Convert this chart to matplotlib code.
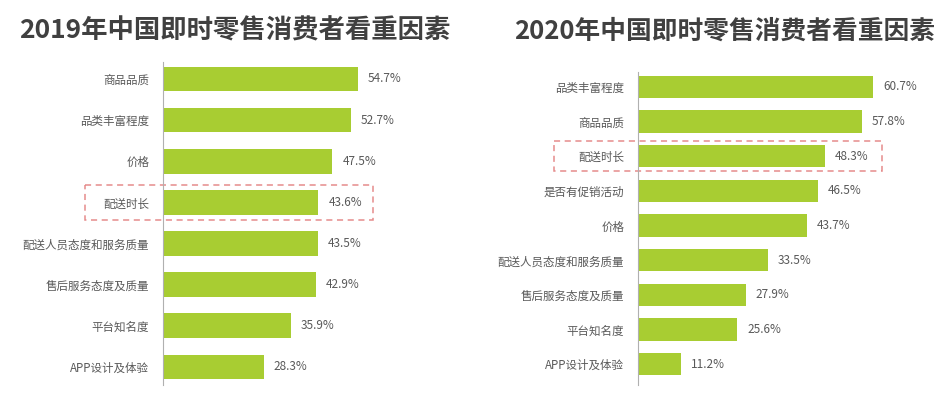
import matplotlib
matplotlib.use('Agg')
import matplotlib.pyplot as plt
import matplotlib.patches as mpatches

plt.rcParams['font.family'] = ['Noto Sans CJK SC', 'DejaVu Sans']

# ── data ─────────────────────────────────────────────────────────────────────
labels_2019 = ['商品品质', '品类丰富程度', '价格', '配送时长', '配送人员态度和服务质量',
               '售后服务态度及质量', '平台知名度', 'APP设计及体验']
values_2019 = [54.7, 52.7, 47.5, 43.6, 43.5, 42.9, 35.9, 28.3]

labels_2020 = ['品类丰富程度', '商品品质', '配送时长', '是否有促销活动', '价格',
               '配送人员态度和服务质量', '售后服务态度及质量', '平台知名度', 'APP设计及体验']
values_2020 = [60.7, 57.8, 48.3, 46.5, 43.7, 33.5, 27.9, 25.6, 11.2]

highlight = '配送时长'

BAR = '#a8cd32'
TXT = '#595959'
W, H = 950, 394

fig = plt.figure(figsize=(W / 100, H / 100), dpi=100)


def panel(x0, top, bottom, px_per, xmax, labels, values, title, title_x, bar_h, pad_top, pad_bot):
    width = xmax * px_per
    ax = fig.add_axes([x0 / W, 1 - bottom / H, width / W, (bottom - top) / H])
    n = len(labels)
    y = list(range(n))
    ax.barh(y, values, height=bar_h, color=BAR)
    for i, v in enumerate(values):
        ax.text(v + 10 / px_per, i, f'{v}%', va='center', ha='left', fontsize=8.5, color=TXT)
    ax.set_xlim(0, xmax)
    ax.set_ylim(n - 1 + pad_bot, -pad_top)
    ax.set_yticks(y)
    ax.set_yticklabels(labels, fontsize=8.3, color=TXT)
    ax.tick_params(axis='y', length=0, pad=10)
    ax.set_xticks([])
    for s in ['top', 'right', 'bottom']:
        ax.spines[s].set_visible(False)
    ax.spines['left'].set_color('#b0b0b0')
    ax.spines['left'].set_linewidth(0.8)

    # dashed highlight box
    k = labels.index(highlight)
    return ax, k


ax1, k1 = panel(163, 62, 385, 3.565, 80, labels_2019, values_2019,
                '', 0, 0.6, 0.41, 0.44)
ax1.add_patch(mpatches.Rectangle((-21.9, k1 - 0.42), 80.8, 0.84, fill=False,
                                 edgecolor='#e58c8c', linestyle=(0, (4, 3)),
                                 linewidth=1.1, clip_on=False))

ax2, k2 = panel(638, 72, 385, 3.87, 70, labels_2020, values_2020,
                '', 0, 0.64, 0.43, 0.6)
ax2.add_patch(mpatches.Rectangle((-21.7, k2 - 0.44), 84.7, 0.88, fill=False,
                                 edgecolor='#e58c8c', linestyle=(0, (4, 3)),
                                 linewidth=1.1, clip_on=False))

fig.text(235 / W, 1 - 31 / H, '2019年中国即时零售消费者看重因素', ha='center', va='center',
         fontsize=19, fontweight='bold', color='#404040')
fig.text(725 / W, 1 - 31 / H, '2020年中国即时零售消费者看重因素', ha='center', va='center',
         fontsize=18.5, fontweight='bold', color='#404040')

fig.savefig('out.png', dpi=100)
